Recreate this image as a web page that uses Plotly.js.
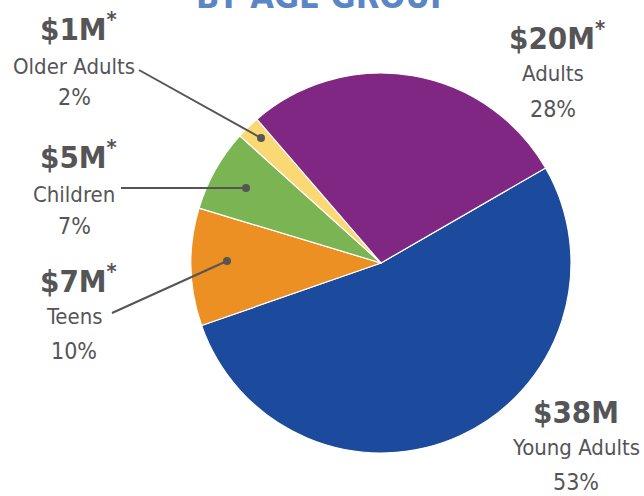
<!DOCTYPE html>
<html>
<head>
<meta charset="utf-8">
<script src="https://cdn.plot.ly/plotly-3.0.1.min.js"></script>
<style>html,body{margin:0;padding:0;background:#fff;}#chart{width:644px;height:496px;}</style>
</head>
<body>
<div id="chart"></div>
<script>
// Data
const categories = ["Young Adults", "Teens", "Children", "Older Adults", "Adults"];
const amounts = ["$38M", "$7M", "$5M", "$1M", "$20M"];
const percents = [53, 10, 7, 2, 28];
const starred = [false, true, true, true, true];
const colors = ["#1c4a9c", "#ec9024", "#7ab453", "#fad873", "#7f2782"];

// Layout helpers (pixel -> paper)
const W = 644, H = 496;
const px = x => x / W;
const py = y => 1 - y / H;

// label positions: [centre x, amount y, name y, percent y] in pixels
const labelPos = {
  "Young Adults": [576, 412, 447, 482],
  "Teens": [74, 279, 316, 351],
  "Children": [74, 155, 195, 226],
  "Older Adults": [74, 27, 66, 97],
  "Adults": [553, 36, 74, 109]
};
// leader lines [x0,y0,x1,y1] for small slices
const leaders = {
  "Older Adults": [139, 70, 261, 138],
  "Children": [121, 188, 246, 188],
  "Teens": [112, 313, 227, 261]
};

const FONT = '"DejaVu Sans Condensed", "Liberation Sans Narrow", sans-serif';
const TXT = "#555557";

const cx = 381, cy = 263, R = 190;
const trace = {
  type: "pie",
  labels: categories,
  values: percents,
  sort: false,
  direction: "clockwise",
  rotation: 60,
  marker: { colors: colors, line: { color: "#ffffff", width: 1.2 } },
  textinfo: "none",
  hoverinfo: "label+percent",
  showlegend: false,
  domain: { x: [px(cx - R), px(cx + R)], y: [py(cy + R), py(cy - R)] }
};

const annotations = [];
annotations.push({
  text: "<b>BY AGE GROUP</b>", xref: "paper", yref: "paper",
  x: px(324), y: py(18), xanchor: "center", yanchor: "bottom", showarrow: false,
  font: { family: FONT, size: 34, color: "#5a86c6" }
});
categories.forEach((c, i) => {
  const [lx, ya, yn, yp] = labelPos[c];
  annotations.push({
    text: "<b>" + amounts[i] + (starred[i] ? "<sup>*</sup>" : "") + "</b>",
    xref: "paper", yref: "paper", x: px(lx + (starred[i] ? 4 : 0)), y: py(ya),
    xanchor: "center", yanchor: "middle", showarrow: false,
    font: { family: FONT, size: 31, color: TXT }
  });
  annotations.push({
    text: c, xref: "paper", yref: "paper", x: px(lx), y: py(yn),
    xanchor: "center", yanchor: "middle", showarrow: false,
    font: { family: FONT, size: 22, color: TXT }
  });
  annotations.push({
    text: percents[i] + "%", xref: "paper", yref: "paper", x: px(lx), y: py(yp),
    xanchor: "center", yanchor: "middle", showarrow: false,
    font: { family: FONT, size: 23, color: TXT }
  });
});

const shapes = [];
Object.keys(leaders).forEach(k => {
  const [x0, y0, x1, y1] = leaders[k];
  shapes.push({ type: "line", xref: "paper", yref: "paper",
    x0: px(x0), y0: py(y0), x1: px(x1), y1: py(y1),
    line: { color: "#555557", width: 2 } });
  const r = 4;
  shapes.push({ type: "circle", xref: "paper", yref: "paper",
    x0: px(x1 - r), x1: px(x1 + r), y0: py(y1 + r), y1: py(y1 - r),
    fillcolor: "#555557", line: { width: 0 } });
});

const layout = {
  width: W, height: H,
  margin: { l: 0, r: 0, t: 0, b: 0 },
  paper_bgcolor: "#ffffff",
  annotations: annotations,
  shapes: shapes
};
Plotly.newPlot("chart", [trace], layout, { displayModeBar: false, staticPlot: true });
</script>
</body>
</html>
